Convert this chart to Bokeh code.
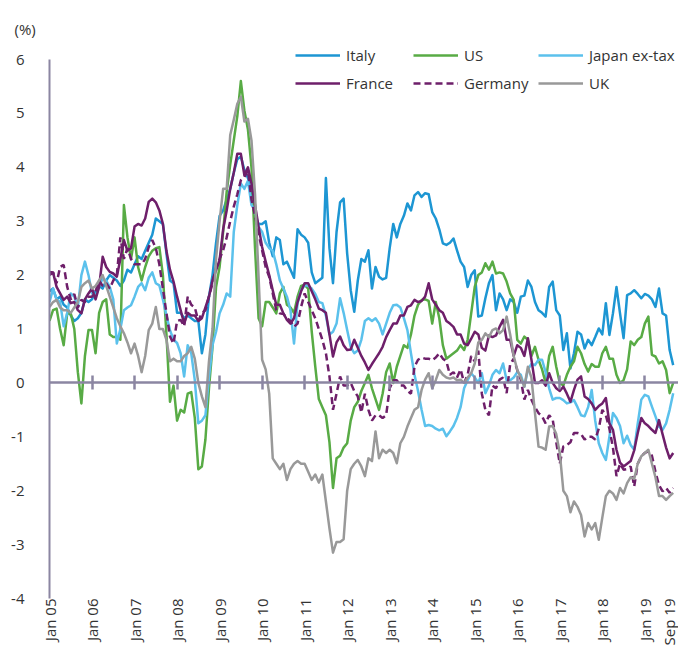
import math
from bokeh.plotting import figure
from bokeh.models import Range1d, LinearAxis, FixedTicker, Legend, LegendItem, Title
from bokeh.embed import file_html
from bokeh.resources import INLINE

# ---------------- data (monthly, Jan 2005 .. Sep 2019) ----------------
tick_months = [0, 12, 24, 36, 48, 60, 72, 84, 96, 108, 120, 132, 144, 156, 168, 176]
tick_labels = ["Jan 05", "Jan 06", "Jan 07", "Jan 08", "Jan 09", "Jan 10", "Jan 11",
               "Jan 12", "Jan 13", "Jan 14", "Jan 15", "Jan 16", "Jan 17", "Jan 18",
               "Jan 19", "Sep 19"]
year_ticks = tick_months[1:-1]
y_ticks = [-4, -3, -2, -1, 0, 1, 2, 3, 4, 5, 6]
y_tick_labels = ["-4", "-3", "-2", "-1", "0", "1", "2", "3", "4", "5", "6"]

italy = [
    1.7, 1.75, 1.55, 1.6, 1.45, 1.4, 1.25, 1.15, 1.2, 1.3, 1.55, 1.5,
    1.55, 1.7, 1.8, 1.75, 1.9, 2.0, 1.95, 1.9, 1.8, 1.9, 2.1, 2.05,
    2.2, 2.35, 2.3, 2.45, 2.6, 2.75, 3.05, 3.0, 2.95, 2.4, 1.9, 1.85,
    1.3, 1.3, 1.2, 1.25, 1.2, 1.15, 1.15, 0.55, 0.9, 1.6, 2.0, 2.6,
    3.1, 3.2, 3.4, 3.6, 3.9, 4.15, 4.2, 3.95, 3.8, 3.5, 3.1, 2.95,
    2.95, 3.0, 2.6, 2.35, 2.7, 2.65, 2.2, 2.25, 2.1, 1.95, 2.85, 2.75,
    2.7, 2.6, 2.05, 1.85, 1.9, 1.95, 3.8, 2.5, 1.85, 2.8, 3.35, 3.42,
    2.4, 1.72, 1.32, 1.9, 2.3, 2.25, 2.46, 1.75, 2.15, 1.97, 1.92, 1.95,
    2.5, 2.95, 2.7, 2.95, 3.1, 3.33, 3.2, 3.48, 3.54, 3.45, 3.52, 3.5,
    3.17, 3.05, 2.85, 2.59, 2.56, 2.6, 2.68, 2.46, 2.25, 2.15, 1.78, 2.0,
    2.09, 1.23, 1.25, 1.57, 1.85, 2.0, 1.35, 1.66, 1.55, 1.35, 1.55, 1.5,
    1.3, 1.6, 1.62, 1.9, 1.78, 1.5, 1.35, 1.3, 1.23, 1.78, 1.88, 1.35,
    1.25, 0.61, 0.92, 0.27, 0.55, 0.95, 0.9, 0.64, 0.8, 0.7, 0.85, 1.01,
    0.9, 1.48, 0.89, 1.29, 1.78, 1.29, 0.83, 1.63, 1.66, 1.72, 1.65, 1.57,
    1.65, 1.62, 1.55, 1.41, 1.75, 1.29, 1.25, 0.61, 0.33,
]

us = [
    1.15, 1.35, 1.38, 1.0, 0.7, 1.29, 1.29, 1.0, 0.2, -0.38, 0.5, 0.98,
    0.98, 0.55, 1.3, 1.5, 1.55, 0.9, 0.85, 0.85, 0.8, 3.3, 2.7, 2.3,
    2.7, 2.15, 1.9, 2.15, 2.35, 2.45, 2.5, 2.52, 2.0, 0.9, -0.35, -0.05,
    -0.7, -0.5, -0.55, -0.2, -0.17, -0.65, -1.6, -1.55, -1.05, -0.1, 0.67, 1.78,
    2.15, 2.8, 3.55, 4.05, 4.5, 4.95, 5.6, 5.05, 4.7, 4.0, 2.5, 1.2,
    1.05, 1.5, 1.5, 1.4, 1.29, 1.66, 1.78, 1.45, 1.4, 1.3, 1.6, 1.8,
    1.82, 1.75, 0.95, 0.3, -0.3, -0.45, -0.6, -1.1, -1.95, -1.4, -1.35, -1.2,
    -1.12, -0.7, -0.45, -0.35, -0.15, 0.0, 0.15, -0.1, -0.3, -0.5, -0.2, 0.2,
    0.36, 0.0, 0.3, 0.5, 0.7, 0.65, 0.9, 1.25, 1.45, 1.54, 1.55, 1.52,
    1.1, 1.5, 1.2, 0.7, 0.45, 0.5, 0.55, 0.6, 0.7, 0.61, 0.8, 1.29,
    1.78, 2.0, 2.05, 2.22, 2.1, 2.25, 2.03, 2.05, 2.03, 1.88, 1.66, 1.54,
    0.8, 0.73, 0.86, 0.8, 0.5, 0.67, 0.43, 0.25, 0.0, 0.5, 0.67, 0.3,
    0.0, -0.05, 0.15, 0.3, 0.4, 0.67, 0.55, 0.35, 0.21, 0.35, 0.3, 0.3,
    0.55, 0.67, 0.45, 0.45, 0.15, 0.0, 0.05, 0.25, 0.77, 0.7, 0.8, 0.85,
    1.1, 1.23, 0.52, 0.49, 0.36, 0.4, 0.24, -0.19, 0.0,
]

japan = [
    1.5, 1.75, 1.55, 1.5, 1.05, 1.3, 1.66, 1.6, 1.4, 2.0, 2.25, 2.0,
    1.66, 1.6, 1.78, 1.94, 1.9, 1.78, 1.55, 0.73, 1.0, 1.35, 1.4, 1.44,
    1.6, 1.78, 1.85, 1.72, 1.95, 2.05, 1.85, 1.81, 1.55, 1.25, 0.98, 0.8,
    0.74, 0.55, 0.12, 0.7, 0.55, 0.05, -0.75, -0.7, -0.6, 0.1, 0.7, 0.95,
    1.29, 1.45, 1.66, 1.6, 2.8, 3.3, 3.7, 3.6, 3.75, 3.3, 3.2, 2.9,
    2.8, 2.6, 2.5, 2.45, 2.2, 1.9, 1.75, 1.6, 1.35, 0.73, 1.48, 1.72,
    1.81, 1.8, 1.75, 1.65, 1.5, 1.48, 1.25, 0.9, 0.95, 1.1, 1.57, 1.3,
    0.98, 0.67, 0.55, 0.6, 0.8, 1.15, 1.2, 1.15, 1.2, 1.1, 0.9, 1.1,
    1.3, 1.44, 1.45, 1.4, 1.2, 0.98, 0.55, 0.15, -0.15, -0.5, -0.8, -0.78,
    -0.8, -0.85, -0.88, -0.85, -0.99, -0.9, -0.8, -0.65, -0.45, -0.1, 0.05, 0.18,
    0.1, 0.0, 0.18, -0.19, -0.05, 0.15, 0.24, 0.18, 0.36, 0.05, 0.05, 0.1,
    0.2, 0.15, -0.07, 0.25, 0.35, 0.33, 0.43, 0.43, 0.2, -0.1, -0.31, -0.28,
    -0.28, -0.32, -0.38, -0.36, -0.32, -0.45, -0.6, -0.62, -0.45, -0.13, -0.7, -1.12,
    -1.3, -1.43, -1.0, -0.56, -0.65, -0.8, -1.12, -0.98, -1.15, -1.24, -0.75, -0.31,
    -0.22, -0.25, -0.44, -0.62, -0.81, -0.87, -0.75, -0.5, -0.19,
]

france = [
    2.06, 2.05, 1.78, 1.66, 1.54, 1.6, 1.48, 1.5, 1.35, 1.29, 1.55, 1.66,
    1.75, 1.55, 1.78, 2.34, 2.15, 2.06, 2.03, 1.97, 2.3, 2.65, 2.45, 2.5,
    2.9, 2.95, 2.92, 3.05, 3.36, 3.42, 3.35, 3.2, 2.95, 2.45, 2.1, 1.88,
    1.6, 1.35, 1.1, 1.3, 1.25, 1.25, 1.15, 1.2, 1.4, 1.6, 1.9, 2.09,
    2.28, 2.85, 3.2, 3.6, 3.9, 4.25, 4.25, 3.85, 4.0, 3.7, 3.3, 2.9,
    2.52, 2.25, 2.0, 1.72, 1.45, 1.45, 1.29, 1.17, 1.1, 1.2, 1.5, 1.7,
    1.85, 1.85, 1.7, 1.55, 1.38, 1.35, 1.3, 0.9, 0.49, 0.75, 0.86, 0.7,
    0.61, 0.62, 0.8, 0.65, 0.5, 0.38, 0.24, 0.35, 0.45, 0.55, 0.67, 0.85,
    0.98, 1.1, 1.1, 1.25, 1.25, 1.41, 1.44, 1.54, 1.5, 1.52, 1.6, 1.85,
    1.55, 1.45, 1.35, 1.3, 1.15, 1.1, 1.04, 0.9, 0.9, 0.73, 0.7, 0.82,
    0.95, 0.9, 0.65, 0.6, 0.88, 0.85, 0.88, 1.04, 1.17, 0.8, 0.8, 0.5,
    0.7, 0.65, 0.5, 0.83, 0.43, 0.0, 0.0, 0.05, -0.05, 0.18, 0.0, -0.1,
    -0.15, -0.07, -0.2, -0.35, -0.13, 0.06, 0.12, -0.25, -0.3, -0.38, -0.5, -0.43,
    -0.38, -0.28, -0.75, -0.87, -1.24, -1.48, -1.55, -1.5, -1.45, -1.25, -0.93, -0.65,
    -0.75, -0.8, -0.87, -0.93, -0.69, -0.95, -1.2, -1.4, -1.3,
]

germany = [
    2.0, 2.05, 1.85, 2.15, 2.19, 1.78, 1.55, 1.65, 1.4, 1.54, 1.5, 1.6,
    1.6, 1.7, 1.9, 1.8, 1.85, 1.75, 1.9, 2.0, 2.7, 2.3, 2.5, 2.3,
    2.2, 2.2, 2.2, 2.3, 2.52, 2.65, 2.5, 2.2, 1.75, 1.3, 0.86, 0.73,
    1.15, 1.17, 1.05, 1.6, 1.45, 1.4, 1.15, 1.3, 1.35, 1.6, 1.85, 2.15,
    2.3, 2.46, 2.7, 3.0, 3.27, 3.5, 3.76, 3.82, 3.94, 3.4, 3.1, 2.77,
    2.46, 2.15, 1.97, 1.66, 1.35, 1.29, 1.28, 1.2, 1.15, 1.04, 1.1, 1.41,
    1.66, 1.5, 1.35, 1.2, 1.0, 0.8, 0.55, 0.12, -0.5, -0.2, 0.12, -0.05,
    -0.05, 0.0, -0.15, -0.25, -0.55, -0.2, -0.5, -0.7, -0.6, -0.6, -0.65, -0.6,
    -0.1, 0.05, 0.05, -0.05, -0.05, -0.15, -0.2, 0.3, 0.43, 0.47, 0.45, 0.45,
    0.42, 0.47, 0.55, 0.45, 0.4, 0.15, 0.2, 0.1, 0.25, 0.0, 0.15, 0.5,
    0.4, 0.6, -0.2, -0.5, -0.6, -0.05, -0.1, 0.06, 0.1, -0.19, 0.35, 0.45,
    0.24, 0.06, -0.31, -0.13, -0.31, -0.45, -0.56, -0.62, -0.75, -0.6, -0.68, -1.1,
    -1.5, -1.18, -1.15, -1.1, -0.93, -0.93, -0.95, -1.05, -1.0, -1.0, -1.05, -0.85,
    -0.5, -0.6, -0.85, -1.2, -1.73, -1.5, -1.61, -1.6, -1.55, -1.92, -1.5, -1.36,
    -1.3, -1.27, -1.35, -1.65, -1.9, -2.01, -1.95, -2.04, -1.95,
]

uk = [
    1.41, 1.5, 1.54, 1.4, 1.35, 1.35, 1.3, 1.4, 1.5, 1.78, 1.85, 1.9,
    1.75, 1.8, 1.9, 2.0, 1.8, 1.6, 1.4, 1.2, 1.05, 0.92, 0.75, 0.55,
    0.73, 0.5, 0.2, 0.5, 0.98, 1.1, 1.41, 1.0, 1.0, 0.8, 0.4, 0.45,
    0.4, 0.4, 0.5, 0.55, 0.67, 0.45, 0.0, -0.25, -0.45, 0.4, 1.0, 2.3,
    3.0, 3.6, 3.6, 4.6, 4.88, 5.18, 5.31, 4.85, 4.9, 4.5, 3.5, 1.97,
    0.43, 0.25, -0.2, -1.4, -1.5, -1.6, -1.5, -1.8, -1.6, -1.5, -1.45, -1.5,
    -1.5, -1.65, -1.8, -1.7, -1.85, -1.7, -2.2, -2.7, -3.15, -2.95, -2.95, -2.9,
    -2.0, -1.6, -1.5, -1.43, -1.55, -1.73, -1.4, -1.45, -0.9, -1.4, -1.24, -1.3,
    -1.24, -1.3, -1.49, -1.12, -1.0, -0.81, -0.65, -0.5, -0.45, -0.13, 0.06, 0.18,
    -0.1, 0.05, 0.24, 0.15, 0.1, 0.08, 0.1, 0.05, 0.06, 0.0, 0.1, 0.18,
    0.36, 0.75, 0.8, 0.92, 0.85, 0.98, 1.01, 0.92, 0.98, 1.23, 0.9, 0.5,
    0.24, 0.1, -0.07, 0.3, 0.1, -0.56, -1.18, -1.2, -1.24, -0.81, -0.8, -0.95,
    -1.3, -2.0, -2.1, -2.4, -2.2, -2.3, -2.45, -2.85, -2.6, -2.72, -2.6, -2.91,
    -2.5, -2.1, -2.0, -2.05, -2.17, -1.95, -2.05, -1.86, -1.75, -1.78, -1.5, -1.36,
    -1.3, -1.24, -1.5, -1.75, -2.1, -2.1, -2.17, -2.1, -2.04,
]

# ---------------- styling ----------------
FONT = "Open Sans"
TEXT_C = "#333333"
AXIS_C = "#8b86a2"
C_ITALY = "#1d96d3"
C_US = "#58ab45"
C_JAPAN = "#5bc1ec"
C_FR = "#6e1f6a"
C_UK = "#999999"
LW = 2.5

W, H = 678, 654
LEFT, TOP, BOTTOM = 49, 45, 56
p = figure(width=W, height=H, output_backend="svg", toolbar_location=None,
           x_range=Range1d(0, 177.5), y_range=Range1d(-4, 6.26),
           x_axis_type=None, y_axis_type=None,
           min_border_left=LEFT, min_border_right=0, min_border_top=TOP,
           min_border_bottom=BOTTOM)
p.outline_line_color = None
p.background_fill_color = "white"
p.border_fill_color = "white"
frame_h = H - TOP - BOTTOM

# "(%)" unit label, top-left (plot title slot)
p.title = Title(text="(%)", align="left", offset=-35, vertical_align="top",
                text_font=FONT, text_font_size="15px", text_font_style="normal",
                text_color=TEXT_C)

# y axis
yaxis = LinearAxis(ticker=FixedTicker(ticks=y_ticks),
                   major_label_overrides=dict(zip(y_ticks, y_tick_labels)),
                   bounds=(-4, 6))
yaxis.axis_line_color = AXIS_C
yaxis.axis_line_width = 2
yaxis.major_tick_line_color = None
yaxis.major_tick_in = 0
yaxis.major_tick_out = 0
yaxis.minor_tick_line_color = None
yaxis.major_label_standoff = 25
yaxis.major_label_text_font = FONT
yaxis.major_label_text_font_size = "15px"
yaxis.major_label_text_color = TEXT_C
p.add_layout(yaxis, "left")

# zero line with year ticks (drawn at y = 0)
zaxis = LinearAxis(ticker=FixedTicker(ticks=year_ticks), fixed_location=0,
                   major_label_overrides={t: "" for t in year_ticks})
zaxis.axis_line_color = AXIS_C
zaxis.axis_line_width = 2.5
zaxis.major_tick_line_color = AXIS_C
zaxis.major_tick_line_width = 2.5
zaxis.major_tick_in = 7
zaxis.major_tick_out = 7
zaxis.major_label_standoff = 0
zaxis.minor_tick_line_color = None
zaxis.major_label_text_alpha = 0
p.add_layout(zaxis, "below")

# bottom labels
xaxis = LinearAxis(ticker=FixedTicker(ticks=tick_months),
                   major_label_overrides=dict(zip(tick_months, tick_labels)))
xaxis.axis_line_color = None
xaxis.major_tick_line_color = None
xaxis.major_tick_in = 0
xaxis.major_tick_out = 0
xaxis.minor_tick_line_color = None
xaxis.major_label_orientation = math.pi / 2
xaxis.major_label_standoff = 0
xaxis.major_label_text_font = FONT
xaxis.major_label_text_font_size = "15px"
xaxis.major_label_text_color = TEXT_C
p.add_layout(xaxis, "below")

months = list(range(len(italy)))

r_it = p.line(months, italy, line_color=C_ITALY, line_width=LW, line_join="round")
r_us = p.line(months, us, line_color=C_US, line_width=LW, line_join="round")
r_jp = p.line(months, japan, line_color=C_JAPAN, line_width=LW, line_join="round")
r_fr = p.line(months, france, line_color=C_FR, line_width=LW, line_join="round")
r_de = p.line(months, germany, line_color=C_FR, line_width=LW, line_dash="7 4")
r_uk = p.line(months, uk, line_color=C_UK, line_width=LW, line_join="round")

leg_h = 48
cols = [
    ([("Italy", r_it), ("France", r_fr)], 246),
    ([("US", r_us), ("Germany", r_de)], 364),
    ([("Japan ex-tax", r_jp), ("UK", r_uk)], 489),
]
for entries, vx in cols:
    leg = Legend(items=[LegendItem(label=l, renderers=[r]) for l, r in entries],
                 location=(vx, frame_h - leg_h), orientation="vertical")
    leg.glyph_width = 45
    leg.glyph_height = 20
    leg.label_height = 20
    leg.label_standoff = 6
    leg.spacing = 8
    leg.padding = 0
    leg.margin = 0
    leg.border_line_alpha = 0
    leg.background_fill_alpha = 0
    leg.label_text_font = FONT
    leg.label_text_font_size = "15px"
    leg.label_text_color = TEXT_C
    p.add_layout(leg)

open("out.html", "w").write(file_html(p, INLINE))
